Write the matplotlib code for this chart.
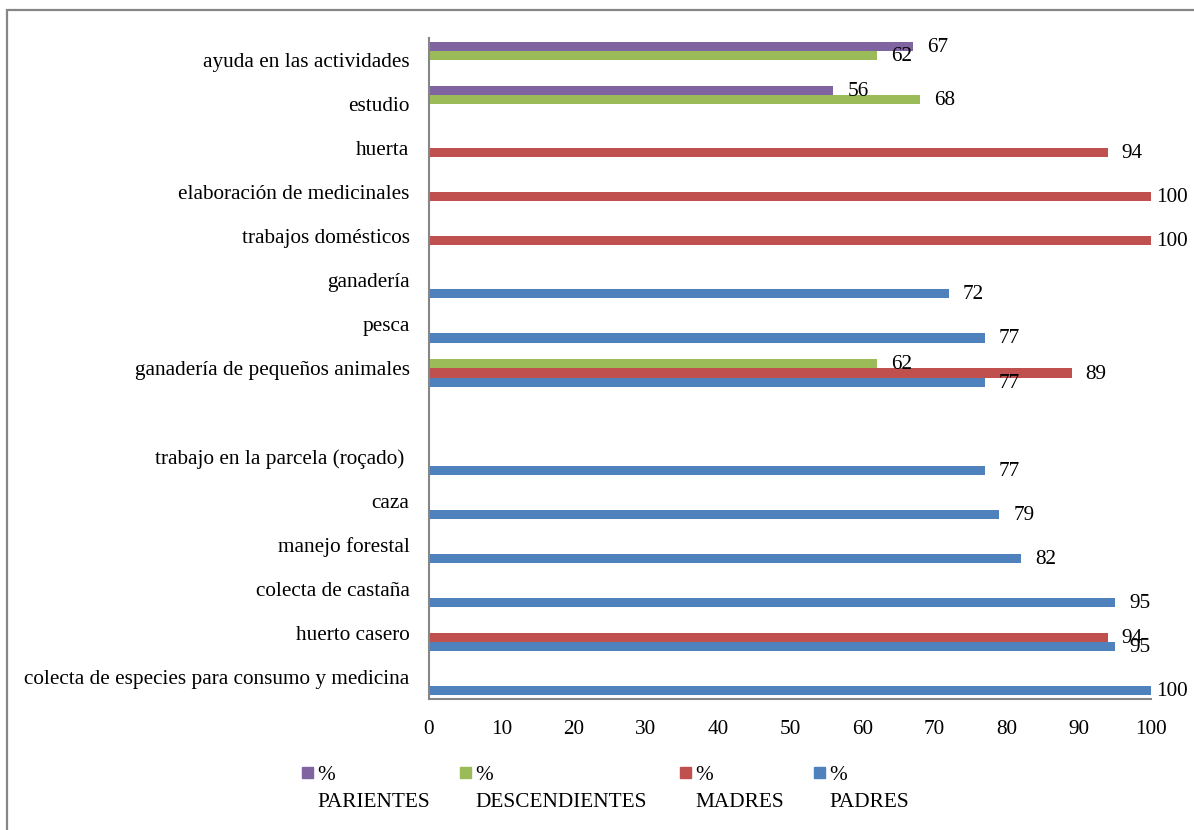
import matplotlib
matplotlib.use('Agg')
import matplotlib.pyplot as plt
import numpy as np
from matplotlib.patches import Rectangle

plt.rcParams['font.family'] = ['Liberation Serif', 'DejaVu Serif']

# categories, bottom to top (blank slot kept as in the original chart)
categories = ['colecta de especies para consumo y medicina', 'huerto casero',
              'colecta de castaña', 'manejo forestal', 'caza',
              'trabajo en la parcela (roçado) ', '',
              'ganadería de pequeños animales', 'pesca', 'ganadería',
              'trabajos domésticos', 'elaboración de medicinales', 'huerta',
              'estudio', 'ayuda en las actividades']

nan = np.nan
padres = [100, 95, 95, 82, 79, 77, nan, 77, 77, 72, nan, nan, nan, nan, nan]
madres = [nan, 94, nan, nan, nan, nan, nan, 89, nan, nan, 100, 100, 94, nan, nan]
descendientes = [nan, nan, nan, nan, nan, nan, nan, 62, nan, nan, nan, nan, nan, 68, 62]
parientes = [nan, nan, nan, nan, nan, nan, nan, nan, nan, nan, nan, nan, nan, 56, 67]

series = [('%\nPADRES', padres, '#4F81BD'),
          ('%\nMADRES', madres, '#C0504D'),
          ('%\nDESCENDIENTES', descendientes, '#9BBB59'),
          ('%\nPARIENTES', parientes, '#8064A2')]

W, H = 1194, 830
fig = plt.figure(figsize=(W / 100, H / 100), dpi=100)

# outer chart border (cropped on right and bottom)
fig.patches.append(Rectangle((7 / W, -0.1), 1.2, 1 - 10 / H + 0.1,
                             transform=fig.transFigure, fill=False,
                             edgecolor='#868686', lw=1.6))

ax = fig.add_axes([429 / W, 1 - 699 / H, (1151 - 429) / W, (699 - 38) / H])

fs = 15.3
y = np.arange(len(categories))
w = 0.205
for k, (name, vals, color) in enumerate(series):
    off = (k - 1.5) * w
    vals = np.array(vals, dtype=float)
    ax.barh(y + off, vals, height=w, color=color, linewidth=0)
    for yi, v in zip(y, vals):
        if np.isnan(v):
            continue
        dx = 5 if v >= 99 else 14
        ax.annotate('%d' % v, xy=(v, yi + off), xytext=(dx, -1),
                    textcoords='offset pixels', ha='left', va='center',
                    fontsize=fs)

ax.set_xlim(0, 100)
ax.set_ylim(-0.5, len(categories) - 0.5)
ax.set_xticks(np.arange(0, 101, 10))
ax.set_yticks(y)
ax.set_yticklabels(categories)
ax.tick_params(axis='both', length=0, labelsize=fs)
ax.tick_params(axis='y', pad=14)
ax.tick_params(axis='x', pad=15)
for s in ['top', 'right']:
    ax.spines[s].set_visible(False)
for s in ['left', 'bottom']:
    ax.spines[s].set_color('#868686')
    ax.spines[s].set_linewidth(1.5)

# legend drawn by hand: square next to the first line of a two-line label
leg_x = [302, 460, 680, 814]
for (name, vals, color), xp in zip(series[::-1], leg_x):
    fig.patches.append(Rectangle((xp / W, 1 - 778 / H), 11 / W, 11 / H,
                                 transform=fig.transFigure, color=color))
    fig.text((xp + 15) / W, 1 - 766 / H, name, ha='left', va='top',
             fontsize=fs, linespacing=1.55)

fig.savefig('out.png', dpi=100)
